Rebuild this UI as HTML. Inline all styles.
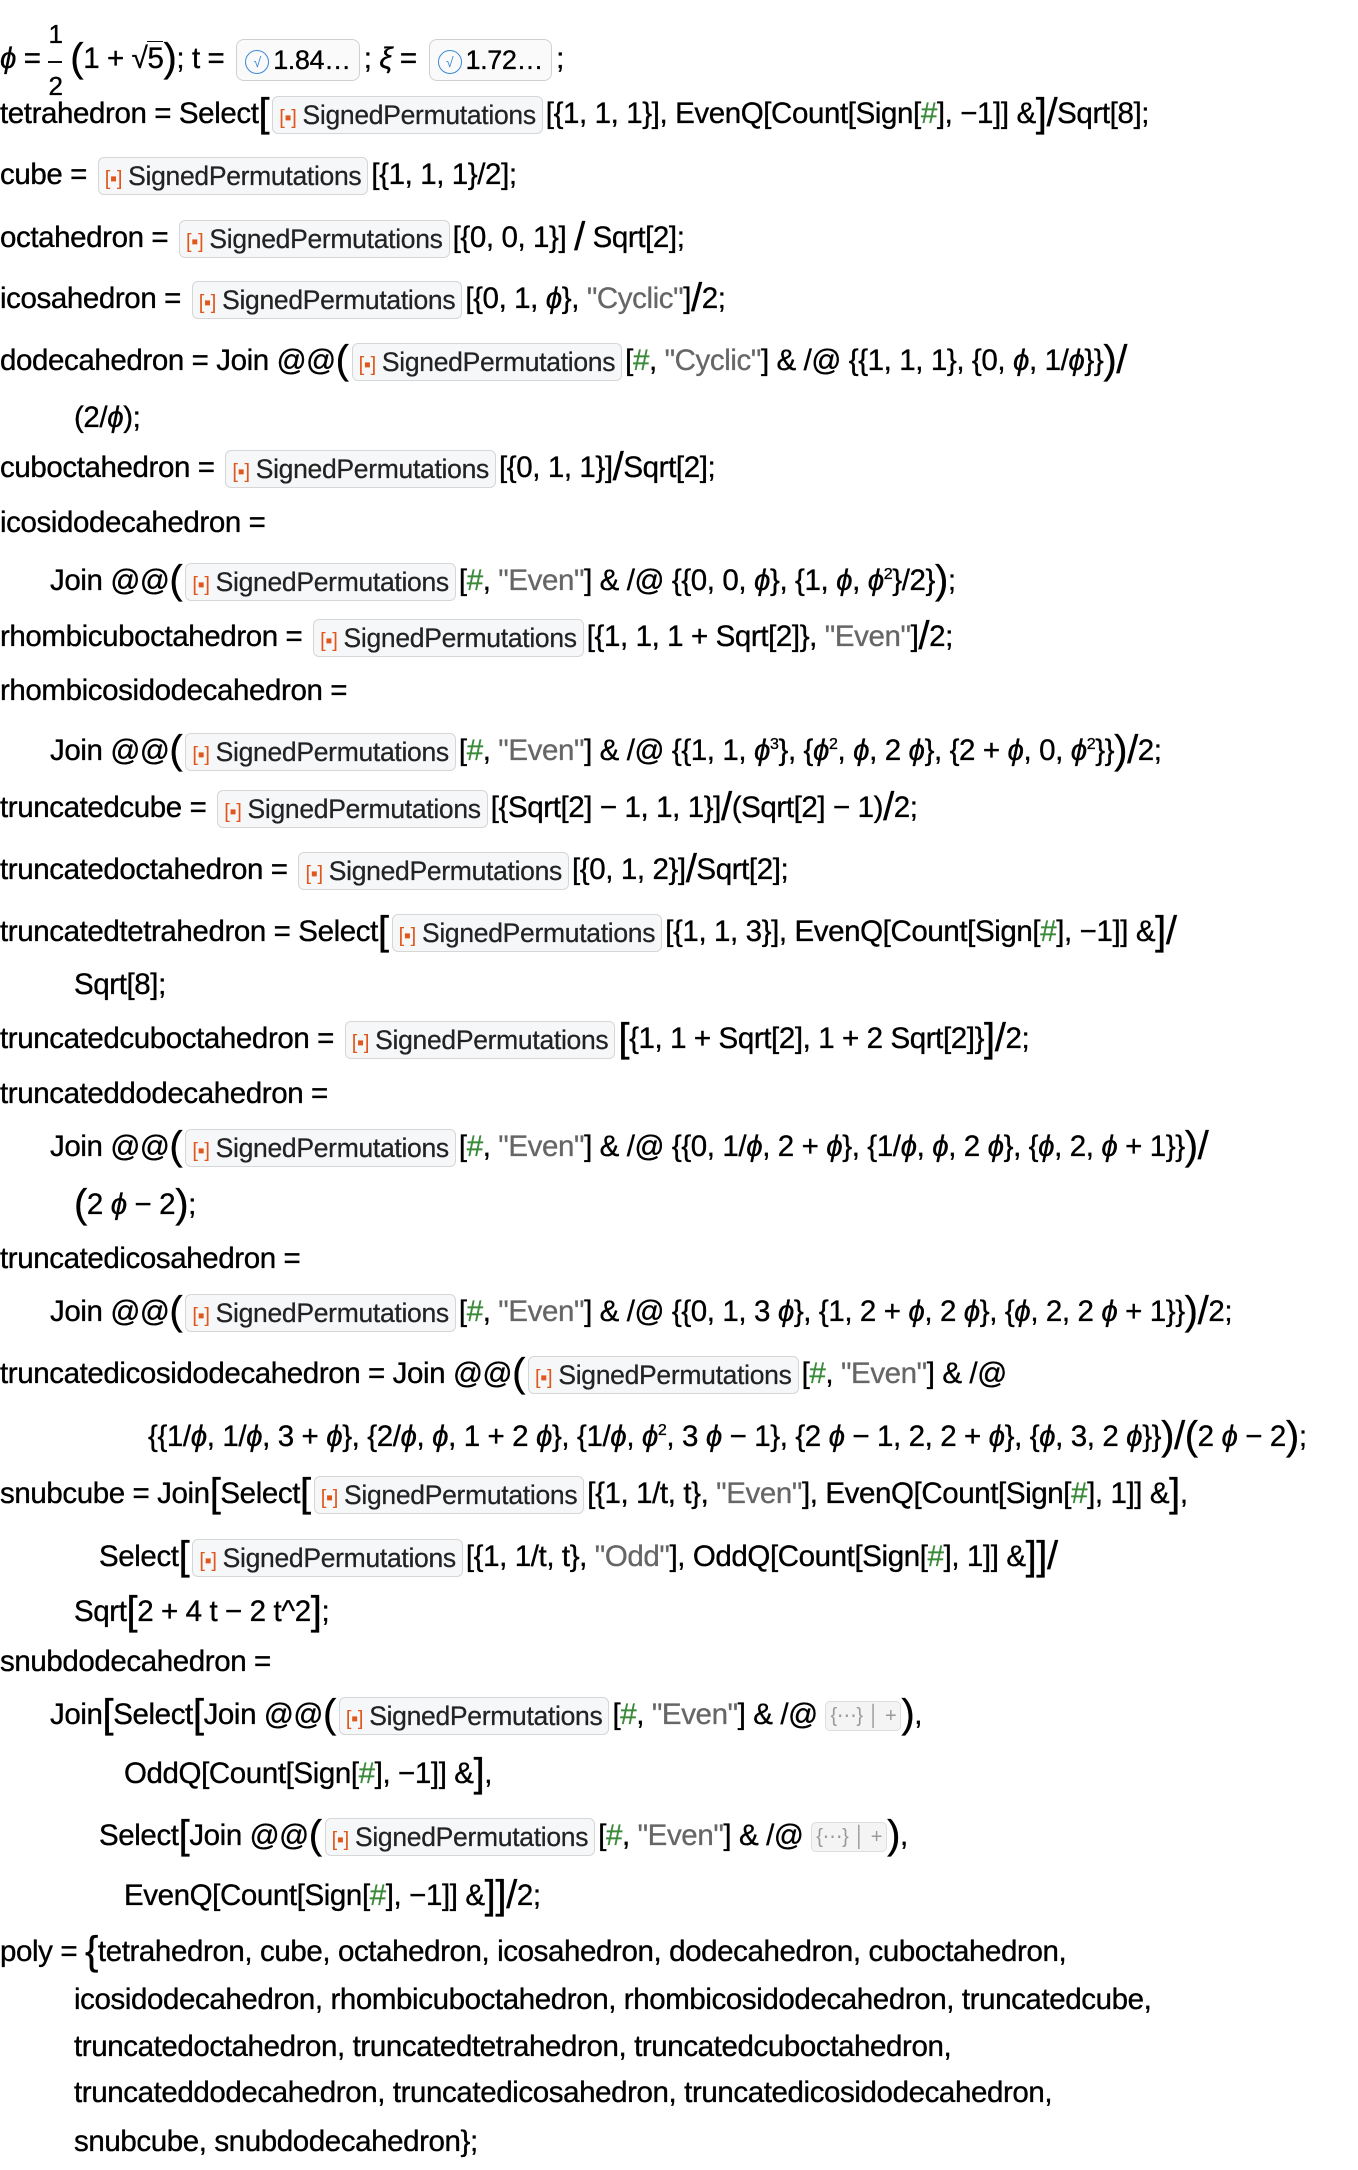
<!DOCTYPE html>
<html><head><meta charset="utf-8"><style>
body{margin:0;background:#fff;width:1358px;height:2170px;position:relative;overflow:hidden;font-family:"Liberation Sans","DejaVu Sans",sans-serif;color:#000;}
.l{position:absolute;left:0;height:40px;line-height:40px;font-size:29.5px;white-space:nowrap;letter-spacing:-0.4px;transform-origin:0 50%;-webkit-text-stroke:0.35px #000;}
.b{display:inline-block;height:36px;line-height:36px;border:1.5px solid #d6d6d6;background:#f6f7f9;border-radius:6px;padding:0 6px;vertical-align:middle;margin:0 3px;font-size:26.5px;letter-spacing:-0.3px;color:#222;-webkit-text-stroke:0.25px #222;}
.i{color:#e0561b;font-size:20px;margin-right:6px;-webkit-text-stroke:0;}
.s{color:#666;-webkit-text-stroke:0.3px #666;}
.h{color:#3a8a3a;-webkit-text-stroke:0.3px #3a8a3a;}
.big{font-size:40px;font-weight:300;vertical-align:-3px;}
.n{display:inline-block;height:40px;line-height:40px;border:1.5px solid #d0d0d0;background:#fafafa;border-radius:8px;padding:0 8px;vertical-align:middle;margin:0 4px;font-size:27px;}
.c{display:inline-block;width:22px;height:22px;border:1.5px solid #3a8ad6;border-radius:50%;color:#3a8ad6;font-size:14px;line-height:22px;text-align:center;vertical-align:middle;margin-right:4px;-webkit-text-stroke:0;}
.e{display:inline-block;height:28px;line-height:28px;border:1.5px solid #ddd;background:#f4f4f4;border-radius:5px;padding:0 4px;color:#999;font-size:20px;vertical-align:middle;-webkit-text-stroke:0;}
.fr{display:inline-block;vertical-align:middle;text-align:center;line-height:26px;font-size:26px;}
sup{font-size:16px}
</style></head><body>
<div class="l" style="top:21px;line-height:40px"><i>ϕ</i> = <span class="fr">1<br><span style="border-top:2px solid #111;display:inline-block;width:14px;height:0;vertical-align:middle"></span><br>2</span> <span class="big">(</span>1 + √<span style="border-top:1.5px solid #111">5</span><span class="big">)</span>; t = <span class="n"><span class="c">√</span>1.84…</span>; <i>ξ</i> = <span class="n"><span class="c">√</span>1.72…</span>;</div>
<div class="l" style="top:93px">tetrahedron = Select<span class="big">[</span><span class="b"><span class="i">[▪]</span>SignedPermutations</span>[{1, 1, 1}], EvenQ[Count[Sign[<span class="h">#</span>], −1]] &amp;<span class="big">]</span><span class="big">/</span>Sqrt[8];</div>
<div class="l" style="top:155px">cube = <span class="b"><span class="i">[▪]</span>SignedPermutations</span>[{1, 1, 1}/2];</div>
<div class="l" style="top:217px">octahedron = <span class="b"><span class="i">[▪]</span>SignedPermutations</span>[{0, 0, 1}] <span class="big">/</span> Sqrt[2];</div>
<div class="l" style="top:278px">icosahedron = <span class="b"><span class="i">[▪]</span>SignedPermutations</span>[{0, 1, <i>ϕ</i>}, <span class="s">"Cyclic"</span>]<span class="big">/</span>2;</div>
<div class="l" style="top:340px">dodecahedron = Join @@<span class="big">(</span><span class="b"><span class="i">[▪]</span>SignedPermutations</span>[<span class="h">#</span>, <span class="s">"Cyclic"</span>] &amp; /@ {{1, 1, 1}, {0, <i>ϕ</i>, 1/<i>ϕ</i>}}<span class="big">)</span><span class="big">/</span></div>
<div class="l" style="top:398px;left:74px">(2/<i>ϕ</i>);</div>
<div class="l" style="top:447px">cuboctahedron = <span class="b"><span class="i">[▪]</span>SignedPermutations</span>[{0, 1, 1}]<span class="big">/</span>Sqrt[2];</div>
<div class="l" style="top:503px">icosidodecahedron =</div>
<div class="l" style="top:555px;left:50px">Join @@<span class="big">(</span><span class="b"><span class="i">[▪]</span>SignedPermutations</span>[<span class="h">#</span>, <span class="s">"Even"</span>] &amp; /@ {{0, 0, <i>ϕ</i>}, {1, <i>ϕ</i>, <i>ϕ</i><sup>2</sup>}/2}<span class="big">)</span>;</div>
<div class="l" style="top:616px">rhombicuboctahedron = <span class="b"><span class="i">[▪]</span>SignedPermutations</span>[{1, 1, 1 + Sqrt[2]}, <span class="s">"Even"</span>]<span class="big">/</span>2;</div>
<div class="l" style="top:671px">rhombicosidodecahedron =</div>
<div class="l" style="top:725px;left:50px">Join @@<span class="big">(</span><span class="b"><span class="i">[▪]</span>SignedPermutations</span>[<span class="h">#</span>, <span class="s">"Even"</span>] &amp; /@ {{1, 1, <i>ϕ</i><sup>3</sup>}, {<i>ϕ</i><sup>2</sup>, <i>ϕ</i>, 2 <i>ϕ</i>}, {2 + <i>ϕ</i>, 0, <i>ϕ</i><sup>2</sup>}}<span class="big">)</span><span class="big">/</span>2;</div>
<div class="l" style="top:787px">truncatedcube = <span class="b"><span class="i">[▪]</span>SignedPermutations</span>[{Sqrt[2] − 1, 1, 1}]<span class="big">/</span>(Sqrt[2] − 1)<span class="big">/</span>2;</div>
<div class="l" style="top:849px">truncatedoctahedron = <span class="b"><span class="i">[▪]</span>SignedPermutations</span>[{0, 1, 2}]<span class="big">/</span>Sqrt[2];</div>
<div class="l" style="top:911px">truncatedtetrahedron = Select<span class="big">[</span><span class="b"><span class="i">[▪]</span>SignedPermutations</span>[{1, 1, 3}], EvenQ[Count[Sign[<span class="h">#</span>], −1]] &amp;<span class="big">]</span><span class="big">/</span></div>
<div class="l" style="top:965px;left:74px">Sqrt[8];</div>
<div class="l" style="top:1018px">truncatedcuboctahedron = <span class="b"><span class="i">[▪]</span>SignedPermutations</span><span class="big">[</span>{1, 1 + Sqrt[2], 1 + 2 Sqrt[2]}<span class="big">]</span><span class="big">/</span>2;</div>
<div class="l" style="top:1074px">truncateddodecahedron =</div>
<div class="l" style="top:1126px;left:50px">Join @@<span class="big">(</span><span class="b"><span class="i">[▪]</span>SignedPermutations</span>[<span class="h">#</span>, <span class="s">"Even"</span>] &amp; /@ {{0, 1/<i>ϕ</i>, 2 + <i>ϕ</i>}, {1/<i>ϕ</i>, <i>ϕ</i>, 2 <i>ϕ</i>}, {<i>ϕ</i>, 2, <i>ϕ</i> + 1}}<span class="big">)</span><span class="big">/</span></div>
<div class="l" style="top:1184px;left:74px"><span class="big">(</span>2 <i>ϕ</i> − 2<span class="big">)</span>;</div>
<div class="l" style="top:1239px">truncatedicosahedron =</div>
<div class="l" style="top:1291px;left:50px">Join @@<span class="big">(</span><span class="b"><span class="i">[▪]</span>SignedPermutations</span>[<span class="h">#</span>, <span class="s">"Even"</span>] &amp; /@ {{0, 1, 3 <i>ϕ</i>}, {1, 2 + <i>ϕ</i>, 2 <i>ϕ</i>}, {<i>ϕ</i>, 2, 2 <i>ϕ</i> + 1}}<span class="big">)</span><span class="big">/</span>2;</div>
<div class="l" style="top:1353px">truncatedicosidodecahedron = Join @@<span class="big">(</span><span class="b"><span class="i">[▪]</span>SignedPermutations</span>[<span class="h">#</span>, <span class="s">"Even"</span>] &amp; /@</div>
<div class="l" style="top:1411px;left:148px">{{1/<i>ϕ</i>, 1/<i>ϕ</i>, 3 + <i>ϕ</i>}, {2/<i>ϕ</i>, <i>ϕ</i>, 1 + 2 <i>ϕ</i>}, {1/<i>ϕ</i>, <i>ϕ</i><sup>2</sup>, 3 <i>ϕ</i> − 1}, {2 <i>ϕ</i> − 1, 2, 2 + <i>ϕ</i>}, {<i>ϕ</i>, 3, 2 <i>ϕ</i>}}<span class="big">)</span><span class="big">/</span><span class="big">(</span>2 <i>ϕ</i> − 2<span class="big">)</span>;</div>
<div class="l" style="top:1473px">snubcube = Join<span class="big">[</span>Select<span class="big">[</span><span class="b"><span class="i">[▪]</span>SignedPermutations</span>[{1, 1/t, t}, <span class="s">"Even"</span>], EvenQ[Count[Sign[<span class="h">#</span>], 1]] &amp;<span class="big">]</span>,</div>
<div class="l" style="top:1536px;left:99px">Select<span class="big">[</span><span class="b"><span class="i">[▪]</span>SignedPermutations</span>[{1, 1/t, t}, <span class="s">"Odd"</span>], OddQ[Count[Sign[<span class="h">#</span>], 1]] &amp;<span class="big">]]</span><span class="big">/</span></div>
<div class="l" style="top:1591px;left:74px">Sqrt<span class="big">[</span>2 + 4 t − 2 t^2<span class="big">]</span>;</div>
<div class="l" style="top:1642px">snubdodecahedron =</div>
<div class="l" style="top:1694px;left:50px">Join<span class="big">[</span>Select<span class="big">[</span>Join @@<span class="big">(</span><span class="b"><span class="i">[▪]</span>SignedPermutations</span>[<span class="h">#</span>, <span class="s">"Even"</span>] &amp; /@ <span class="e">{⋯} │ +</span><span class="big">)</span>,</div>
<div class="l" style="top:1753px;left:124px">OddQ[Count[Sign[<span class="h">#</span>], −1]] &amp;<span class="big">]</span>,</div>
<div class="l" style="top:1815px;left:99px">Select<span class="big">[</span>Join @@<span class="big">(</span><span class="b"><span class="i">[▪]</span>SignedPermutations</span>[<span class="h">#</span>, <span class="s">"Even"</span>] &amp; /@ <span class="e">{⋯} │ +</span><span class="big">)</span>,</div>
<div class="l" style="top:1875px;left:124px">EvenQ[Count[Sign[<span class="h">#</span>], −1]] &amp;<span class="big">]]</span><span class="big">/</span>2;</div>
<div class="l" style="top:1931px">poly = <span class="big">{</span>tetrahedron, cube, octahedron, icosahedron, dodecahedron, cuboctahedron,</div>
<div class="l" style="top:1980px;left:74px">icosidodecahedron, rhombicuboctahedron, rhombicosidodecahedron, truncatedcube,</div>
<div class="l" style="top:2027px;left:74px">truncatedoctahedron, truncatedtetrahedron, truncatedcuboctahedron,</div>
<div class="l" style="top:2073px;left:74px">truncateddodecahedron, truncatedicosahedron, truncatedicosidodecahedron,</div>
<div class="l" style="top:2122px;left:74px">snubcube, snubdodecahedron};</div>
</body></html>
